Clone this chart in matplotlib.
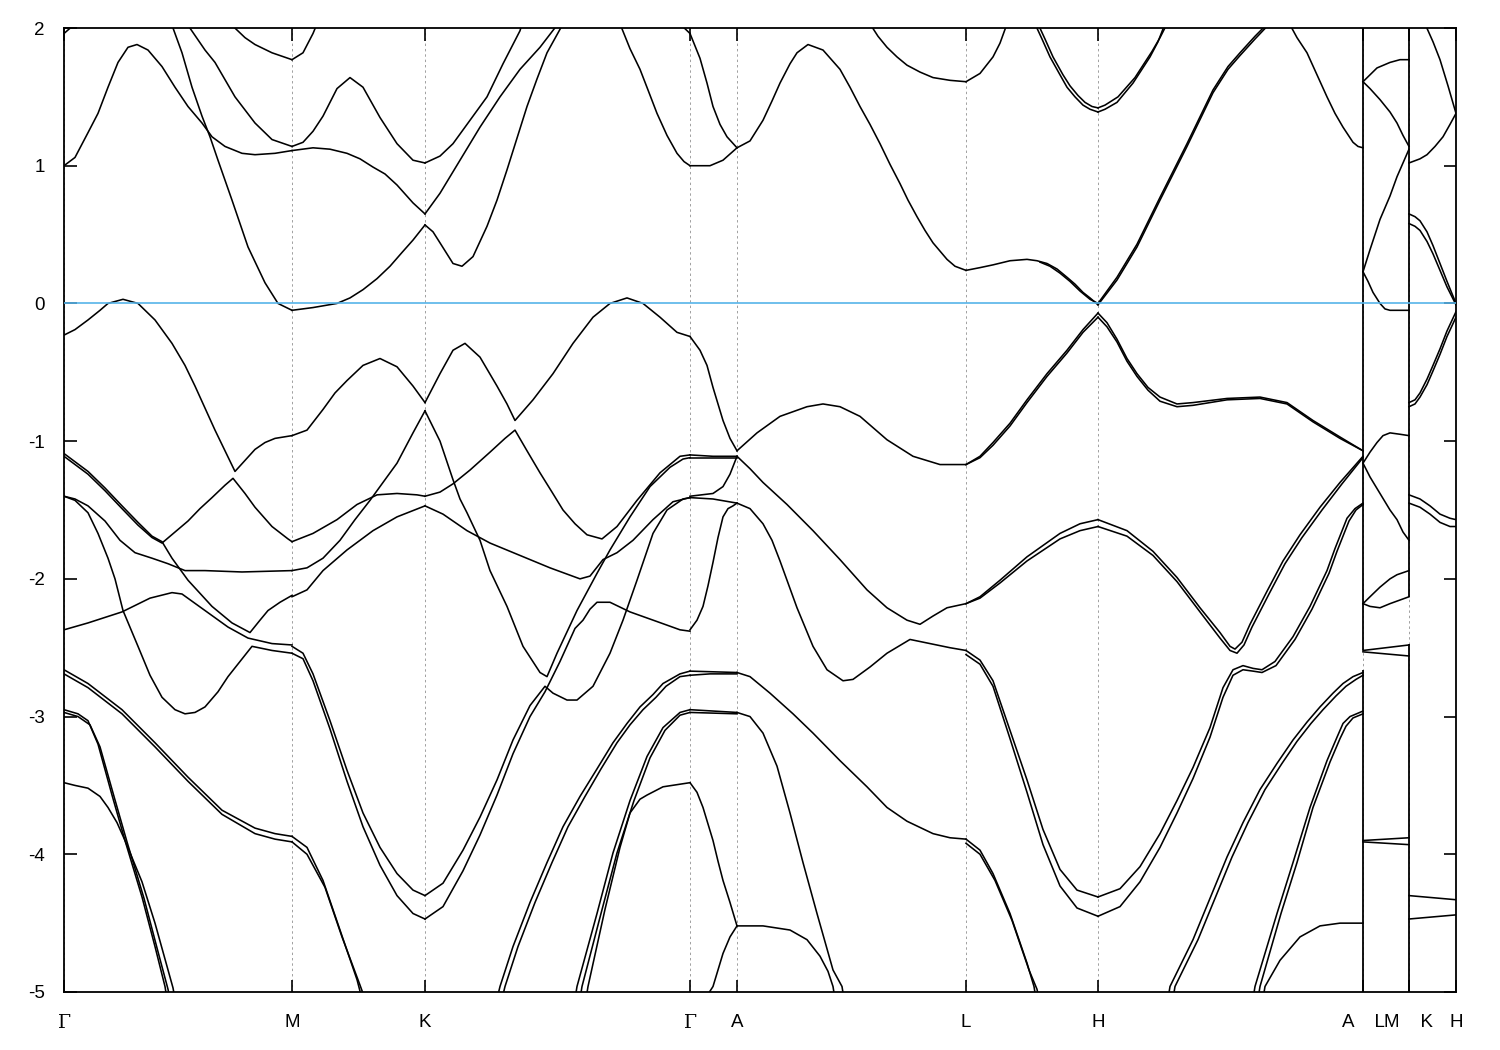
import numpy as np
import matplotlib
matplotlib.use("Agg")
import matplotlib.pyplot as plt

# k-path positions of the high-symmetry points (arbitrary path units)
kpt_pos = [64, 292, 425, 690, 737, 966, 1098, 1363, 1409, 1456]
kpt_labels = ["Γ", "M", "K", "Γ", "A", "L", "H", "A    L", "M    K", "H"]

# bands, segment by segment: lists of (k, E[eV])
gamma_m = [
    [(64, 1.96), (75, 2.03)],
    [(64, 1.0), (75, 1.06), (88, 1.24), (98, 1.38), (108, 1.57), (118, 1.75), (128, 1.86), (137, 1.88),
     (148, 1.84), (162, 1.72), (175, 1.57), (188, 1.43), (202, 1.31), (212, 1.21), (225, 1.14),
     (242, 1.09), (255, 1.08), (275, 1.09), (292, 1.11)],
    [(172, 2.02), (182, 1.82), (192, 1.57), (202, 1.36), (210, 1.21), (218, 1.04), (232, 0.75),
     (248, 0.41), (265, 0.15), (278, 0.0), (292, -0.05)],
    [(188, 2.02), (205, 1.84), (215, 1.75), (235, 1.5), (255, 1.31), (272, 1.19), (292, 1.14)],
    [(232, 2.02), (245, 1.93), (255, 1.88), (272, 1.82), (292, 1.77)],
    [(64, -0.23), (75, -0.19), (88, -0.12), (100, -0.05), (108, 0.0), (123, 0.03), (138, 0.0),
     (155, -0.12), (172, -0.29), (185, -0.45), (195, -0.6), (205, -0.76), (215, -0.92), (225, -1.07),
     (235, -1.22), (245, -1.14), (255, -1.06), (265, -1.01), (275, -0.98), (292, -0.96)],
    [(64, -1.11), (88, -1.24), (105, -1.36), (122, -1.49), (138, -1.61), (152, -1.70), (162, -1.74),
     (175, -1.66), (188, -1.58), (200, -1.49), (212, -1.41), (225, -1.32), (233, -1.27), (245, -1.38),
     (255, -1.48), (272, -1.62), (288, -1.71), (292, -1.73)],
    [(64, -1.09), (88, -1.22), (105, -1.34), (122, -1.47), (138, -1.59), (152, -1.69), (162, -1.73),
     (172, -1.85), (188, -2.01), (212, -2.2), (232, -2.32), (250, -2.39), (260, -2.3), (268, -2.23),
     (280, -2.17), (292, -2.12)],
    [(64, -1.40), (75, -1.42), (88, -1.47), (105, -1.58), (120, -1.72), (135, -1.81), (152, -1.85),
     (168, -1.89), (185, -1.94), (205, -1.94), (242, -1.95), (292, -1.94)],
    [(64, -1.40), (75, -1.43), (88, -1.52), (98, -1.67), (108, -1.85), (115, -2.0), (123, -2.23),
     (138, -2.49), (150, -2.7), (162, -2.86), (175, -2.95), (185, -2.98), (195, -2.97), (205, -2.93),
     (218, -2.82), (228, -2.71), (240, -2.6), (252, -2.49), (272, -2.52), (292, -2.54)],
    [(64, -2.37), (88, -2.32), (122, -2.24), (150, -2.14), (172, -2.10), (182, -2.11), (205, -2.23),
     (228, -2.35), (248, -2.43), (272, -2.47), (292, -2.48)],
    [(64, -2.66), (88, -2.76), (122, -2.95), (155, -3.19), (188, -3.44), (222, -3.68), (255, -3.81),
     (275, -3.85), (292, -3.87)],
    [(64, -2.69), (88, -2.79), (122, -2.98), (155, -3.22), (188, -3.47), (222, -3.71), (255, -3.85),
     (275, -3.89), (292, -3.91)],
    [(64, -2.95), (78, -2.98), (88, -3.03), (98, -3.2), (112, -3.57), (125, -3.9), (142, -4.31),
     (155, -4.67), (165, -4.96), (167, -5.05)],
    [(64, -2.97), (78, -3.0), (90, -3.06), (100, -3.22), (114, -3.58), (127, -3.91), (144, -4.32),
     (157, -4.68), (168, -4.98), (170, -5.05)],
    [(64, -3.48), (75, -3.5), (88, -3.52), (100, -3.58), (108, -3.66), (117, -3.77), (125, -3.9),
     (142, -4.2), (155, -4.5), (173, -4.97), (175, -5.05)],
]

m_k = [
    [(292, 1.77), (303, 1.82), (313, 1.96), (317, 2.03)],
    [(292, 1.14), (303, 1.17), (313, 1.25), (323, 1.36), (337, 1.56), (350, 1.64), (363, 1.57),
     (380, 1.35), (397, 1.16), (413, 1.04), (425, 1.02)],
    [(292, 1.11), (313, 1.13), (330, 1.12), (347, 1.09), (360, 1.05), (373, 0.99), (385, 0.94),
     (397, 0.86), (413, 0.73), (425, 0.65)],
    [(292, -0.05), (313, -0.03), (337, 0.0), (350, 0.04), (363, 0.1), (377, 0.18), (390, 0.27),
     (402, 0.37), (413, 0.46), (425, 0.57)],
    [(292, -0.96), (307, -0.92), (323, -0.77), (335, -0.65), (347, -0.56), (363, -0.45), (380, -0.40),
     (397, -0.46), (413, -0.60), (425, -0.72)],
    [(292, -1.94), (307, -1.92), (323, -1.85), (340, -1.72), (355, -1.57), (370, -1.43), (380, -1.33),
     (397, -1.16), (413, -0.94), (425, -0.78)],
    [(292, -1.73), (313, -1.67), (337, -1.57), (357, -1.46), (377, -1.39), (397, -1.38), (417, -1.39),
     (425, -1.40)],
    [(292, -2.13), (307, -2.08), (323, -1.94), (347, -1.79), (373, -1.65), (397, -1.55), (425, -1.47)],
    [(292, -2.49), (303, -2.54), (313, -2.69), (330, -3.03), (347, -3.39), (363, -3.70), (380, -3.95),
     (397, -4.14), (413, -4.26), (425, -4.30)],
    [(292, -2.54), (303, -2.58), (313, -2.74), (330, -3.09), (347, -3.47), (363, -3.80), (380, -4.08),
     (397, -4.30), (413, -4.43), (425, -4.47)],
    [(292, -3.87), (307, -3.95), (323, -4.19), (340, -4.55), (357, -4.91), (362, -5.05)],
    [(292, -3.91), (307, -4.0), (325, -4.24), (342, -4.6), (360, -4.95), (365, -5.05)],
]

k_gamma = [
    [(425, 1.02), (440, 1.07), (453, 1.16), (470, 1.33), (487, 1.5), (503, 1.74), (520, 1.98), (522, 2.03)],
    [(425, 0.65), (440, 0.80), (460, 1.04), (480, 1.28), (500, 1.5), (520, 1.70), (540, 1.86), (558, 2.03)],
    [(425, 0.57), (433, 0.52), (440, 0.44), (453, 0.29), (462, 0.27), (473, 0.34), (487, 0.56),
     (497, 0.75), (507, 0.97), (517, 1.2), (527, 1.43), (537, 1.63), (547, 1.82), (563, 2.03)],
    [(620, 2.03), (630, 1.85), (640, 1.70), (648, 1.55), (657, 1.38), (667, 1.22), (677, 1.09),
     (684, 1.03), (690, 1.0)],
    [(680, 2.03), (690, 1.96)],
    [(425, -0.72), (440, -0.51), (453, -0.34), (465, -0.29), (480, -0.39), (497, -0.6), (507, -0.73),
     (515, -0.85), (533, -0.70), (553, -0.51), (573, -0.29), (593, -0.10), (610, 0.0), (627, 0.04),
     (643, 0.0), (660, -0.1), (677, -0.21), (690, -0.24)],
    [(425, -0.78), (440, -1.0), (453, -1.28), (460, -1.42), (467, -1.52), (480, -1.72), (490, -1.94),
     (507, -2.20), (523, -2.49), (540, -2.68), (547, -2.71), (557, -2.54), (577, -2.23), (597, -1.96),
     (610, -1.79), (630, -1.55), (650, -1.33), (670, -1.19), (683, -1.13), (690, -1.12)],
    [(425, -1.40), (440, -1.37), (453, -1.31), (470, -1.21), (490, -1.08), (505, -0.98), (515, -0.92),
     (527, -1.07), (540, -1.23), (552, -1.37), (563, -1.50), (575, -1.60), (587, -1.68), (602, -1.71),
     (617, -1.62), (637, -1.43), (660, -1.23), (680, -1.11), (690, -1.10)],
    [(425, -1.47), (443, -1.53), (467, -1.65), (490, -1.74), (520, -1.83), (550, -1.92), (580, -2.0),
     (590, -1.98), (603, -1.86), (617, -1.81), (633, -1.72), (653, -1.57), (673, -1.44), (690, -1.41)],
    [(425, -4.30), (443, -4.21), (463, -3.97), (480, -3.73), (497, -3.46), (513, -3.17), (530, -2.92),
     (545, -2.78), (553, -2.83), (567, -2.88), (577, -2.88), (593, -2.78), (610, -2.54), (623, -2.30),
     (637, -2.01), (653, -1.67), (667, -1.50), (683, -1.42), (690, -1.41)],
    [(425, -4.47), (443, -4.38), (463, -4.12), (480, -3.86), (497, -3.57), (513, -3.27), (530, -3.0),
     (545, -2.82), (560, -2.6), (575, -2.36), (583, -2.30), (590, -2.22), (597, -2.17), (610, -2.17),
     (630, -2.24), (657, -2.31), (680, -2.37), (690, -2.38)],
    [(497, -5.05), (500, -4.96), (513, -4.67), (530, -4.35), (547, -4.06), (563, -3.80), (580, -3.58),
     (597, -3.38), (613, -3.19), (627, -3.05), (640, -2.93), (653, -2.84), (663, -2.76), (680, -2.69),
     (690, -2.67)],
    [(502, -5.05), (505, -4.96), (518, -4.67), (535, -4.35), (552, -4.06), (568, -3.80), (585, -3.58),
     (601, -3.38), (617, -3.19), (630, -3.06), (643, -2.95), (656, -2.86), (666, -2.78), (680, -2.71),
     (690, -2.70)],
    [(575, -5.05), (577, -4.96), (597, -4.43), (613, -3.99), (630, -3.61), (647, -3.29), (663, -3.08),
     (680, -2.97), (690, -2.95)],
    [(580, -5.05), (582, -4.96), (601, -4.43), (617, -3.99), (634, -3.61), (650, -3.30), (665, -3.10),
     (680, -2.99), (690, -2.97)],
    [(586, -5.05), (588, -4.96), (605, -4.4), (620, -3.95), (630, -3.70), (640, -3.60), (647, -3.57),
     (663, -3.51), (690, -3.48)],
]

gamma_a = [
    [(690, 1.96), (700, 1.78), (707, 1.6), (713, 1.43), (720, 1.3), (727, 1.21), (737, 1.13)],
    [(690, 1.0), (700, 1.0), (710, 1.0), (723, 1.04), (737, 1.13)],
    [(690, -0.24), (700, -0.34), (707, -0.45), (713, -0.61), (718, -0.73), (723, -0.85), (730, -0.98),
     (737, -1.07)],
    [(690, -1.10), (713, -1.11), (737, -1.11)],
    [(690, -1.12), (713, -1.12), (737, -1.12)],
    [(690, -1.40), (713, -1.38), (723, -1.33), (730, -1.24), (737, -1.11)],
    [(690, -1.41), (713, -1.42), (737, -1.45)],
    [(690, -2.37), (697, -2.30), (703, -2.20), (708, -2.05), (713, -1.88), (718, -1.70), (723, -1.55),
     (728, -1.49), (733, -1.47), (737, -1.45)],
    [(690, -2.67), (737, -2.68)],
    [(690, -2.70), (710, -2.69), (737, -2.69)],
    [(690, -2.95), (737, -2.97)],
    [(690, -2.97), (737, -2.98)],
    [(690, -3.48), (697, -3.55), (703, -3.66), (708, -3.78), (713, -3.9), (718, -4.05), (723, -4.19),
     (730, -4.35), (737, -4.52)],
    [(705, -5.05), (713, -4.96), (723, -4.72), (730, -4.6), (737, -4.52)],
]

a_l = [
    [(737, 1.13), (750, 1.18), (763, 1.33), (772, 1.47), (780, 1.6), (790, 1.74), (797, 1.82), (808, 1.88),
     (823, 1.84), (840, 1.70), (850, 1.57), (860, 1.43), (870, 1.30), (880, 1.16), (890, 1.01),
     (900, 0.87), (908, 0.75), (917, 0.63), (925, 0.53), (933, 0.44), (947, 0.32), (955, 0.27),
     (966, 0.24)],
    [(870, 2.03), (878, 1.94), (887, 1.86), (897, 1.79), (907, 1.73), (920, 1.68), (933, 1.64),
     (950, 1.62), (966, 1.61)],
    [(737, -1.07), (757, -0.94), (780, -0.82), (807, -0.75), (823, -0.73), (840, -0.75), (860, -0.82),
     (887, -0.99), (913, -1.11), (940, -1.17), (966, -1.17)],
    [(737, -1.11), (750, -1.2), (763, -1.30), (787, -1.46), (813, -1.65), (840, -1.86), (867, -2.08),
     (887, -2.21), (907, -2.30), (920, -2.33), (933, -2.27), (947, -2.21), (966, -2.18)],
    [(737, -1.45), (750, -1.49), (763, -1.60), (772, -1.72), (780, -1.87), (797, -2.21), (813, -2.49),
     (827, -2.66), (843, -2.74), (853, -2.73), (870, -2.64), (887, -2.54), (910, -2.44), (930, -2.47),
     (950, -2.50), (966, -2.52)],
    [(737, -2.68), (750, -2.71), (770, -2.83), (793, -2.98), (813, -3.12), (840, -3.32), (867, -3.51),
     (887, -3.66), (907, -3.76), (933, -3.85), (950, -3.88), (966, -3.89)],
    [(737, -2.97), (750, -3.0), (763, -3.12), (777, -3.36), (790, -3.70), (803, -4.06), (817, -4.43),
     (833, -4.84), (842, -4.96), (844, -5.05)],
    [(737, -4.52), (763, -4.52), (790, -4.55), (807, -4.62), (820, -4.74), (828, -4.85), (833, -4.96),
     (835, -5.05)],
]

l_h = [
    [(966, 1.61), (980, 1.67), (993, 1.79), (1000, 1.89), (1007, 2.03)],
    [(1035, 2.03), (1042, 1.92), (1050, 1.79), (1060, 1.66), (1067, 1.57), (1075, 1.5), (1083, 1.44),
     (1090, 1.41), (1098, 1.39)],
    [(1038, 2.03), (1045, 1.92), (1053, 1.79), (1063, 1.66), (1070, 1.58), (1078, 1.51), (1085, 1.46),
     (1092, 1.43), (1098, 1.42)],
    [(966, 0.24), (980, 0.26), (993, 0.28), (1010, 0.31), (1027, 0.32), (1037, 0.31), (1047, 0.29),
     (1057, 0.25), (1067, 0.19), (1075, 0.14), (1083, 0.08), (1090, 0.04), (1098, -0.01)],
    [(1040, 0.30), (1050, 0.27), (1060, 0.22), (1070, 0.16), (1080, 0.09), (1090, 0.03), (1098, 0.0)],
    [(966, -1.17), (980, -1.11), (993, -1.01), (1010, -0.87), (1027, -0.70), (1047, -0.51), (1067, -0.34),
     (1083, -0.19), (1098, -0.07)],
    [(966, -1.17), (980, -1.12), (993, -1.03), (1010, -0.89), (1027, -0.72), (1047, -0.53), (1067, -0.36),
     (1083, -0.21), (1098, -0.10)],
    [(966, -2.18), (980, -2.13), (1000, -2.01), (1027, -1.84), (1060, -1.67), (1080, -1.60), (1098, -1.57)],
    [(966, -2.18), (980, -2.14), (1000, -2.03), (1027, -1.87), (1060, -1.71), (1080, -1.65), (1098, -1.62)],
    [(966, -2.52), (980, -2.59), (993, -2.74), (1010, -3.10), (1027, -3.46), (1043, -3.82), (1060, -4.11),
     (1077, -4.26), (1098, -4.31)],
    [(966, -2.55), (980, -2.62), (993, -2.78), (1010, -3.16), (1027, -3.55), (1043, -3.93), (1060, -4.23),
     (1077, -4.39), (1098, -4.45)],
    [(966, -3.89), (980, -3.97), (993, -4.14), (1010, -4.43), (1027, -4.79), (1034, -4.96), (1036, -5.05)],
    [(966, -3.92), (980, -4.0), (995, -4.19), (1012, -4.48), (1029, -4.84), (1037, -4.98), (1039, -5.05)],
]

h_a = [
    [(1098, 1.39), (1105, 1.41), (1117, 1.46), (1133, 1.60), (1150, 1.79), (1158, 1.9), (1165, 2.03)],
    [(1098, 1.42), (1105, 1.44), (1118, 1.50), (1135, 1.64), (1152, 1.83), (1160, 1.93), (1167, 2.03)],
    [(1098, -0.01), (1117, 0.17), (1137, 0.41), (1160, 0.75), (1187, 1.14), (1213, 1.53), (1228, 1.7),
     (1240, 1.80), (1255, 1.92), (1272, 2.05)],
    [(1098, 0.0), (1117, 0.19), (1137, 0.43), (1160, 0.77), (1187, 1.16), (1213, 1.55), (1228, 1.72),
     (1240, 1.82), (1255, 1.94), (1270, 2.05)],
    [(1288, 2.05), (1297, 1.93), (1307, 1.82), (1317, 1.66), (1327, 1.50), (1335, 1.38), (1343, 1.28),
     (1353, 1.17), (1358, 1.14), (1363, 1.13)],
    [(1098, -0.07), (1107, -0.14), (1117, -0.26), (1127, -0.40), (1137, -0.51), (1148, -0.61),
     (1160, -0.68), (1177, -0.73), (1193, -0.72), (1227, -0.69), (1260, -0.68), (1287, -0.72),
     (1313, -0.85), (1340, -0.97), (1363, -1.07)],
    [(1098, -0.10), (1107, -0.17), (1117, -0.28), (1127, -0.42), (1137, -0.53), (1148, -0.63),
     (1160, -0.71), (1177, -0.75), (1193, -0.74), (1227, -0.70), (1260, -0.69), (1287, -0.73),
     (1313, -0.86), (1340, -0.98), (1363, -1.07)],
    [(1098, -1.57), (1127, -1.65), (1153, -1.80), (1177, -1.99), (1200, -2.21), (1220, -2.39),
     (1230, -2.49), (1235, -2.51), (1242, -2.46), (1250, -2.33), (1267, -2.09), (1283, -1.87),
     (1300, -1.68), (1320, -1.48), (1340, -1.30), (1363, -1.11)],
    [(1098, -1.62), (1127, -1.69), (1153, -1.83), (1177, -2.02), (1200, -2.24), (1220, -2.43),
     (1230, -2.52), (1237, -2.54), (1244, -2.48), (1252, -2.35), (1269, -2.11), (1285, -1.89),
     (1302, -1.70), (1322, -1.50), (1342, -1.31), (1363, -1.12)],
    [(1098, -4.31), (1120, -4.25), (1140, -4.09), (1160, -3.85), (1177, -3.61), (1193, -3.37),
     (1210, -3.08), (1223, -2.79), (1233, -2.66), (1243, -2.63), (1253, -2.65), (1262, -2.66),
     (1275, -2.60), (1285, -2.50), (1293, -2.42), (1310, -2.20), (1327, -1.94), (1335, -1.78),
     (1347, -1.56), (1355, -1.49), (1363, -1.45)],
    [(1098, -4.45), (1120, -4.38), (1140, -4.20), (1160, -3.95), (1177, -3.70), (1193, -3.45),
     (1210, -3.15), (1223, -2.86), (1233, -2.70), (1243, -2.66), (1253, -2.67), (1262, -2.68),
     (1276, -2.63), (1287, -2.52), (1295, -2.44), (1312, -2.22), (1329, -1.96), (1337, -1.80),
     (1349, -1.58), (1356, -1.50), (1363, -1.46)],
    [(1168, -5.05), (1170, -4.96), (1193, -4.62), (1210, -4.32), (1227, -4.02), (1243, -3.77),
     (1260, -3.53), (1277, -3.34), (1293, -3.17), (1307, -3.04), (1320, -2.93), (1333, -2.83),
     (1343, -2.76), (1353, -2.71), (1363, -2.68)],
    [(1173, -5.05), (1175, -4.96), (1198, -4.62), (1215, -4.32), (1232, -4.02), (1248, -3.77),
     (1265, -3.53), (1282, -3.34), (1297, -3.18), (1311, -3.05), (1323, -2.95), (1336, -2.85),
     (1346, -2.78), (1356, -2.73), (1363, -2.70)],
    [(1253, -5.05), (1255, -4.96), (1277, -4.43), (1293, -4.06), (1310, -3.66), (1327, -3.32),
     (1337, -3.15), (1343, -3.05), (1350, -3.0), (1363, -2.96)],
    [(1258, -5.05), (1260, -4.96), (1281, -4.43), (1297, -4.06), (1313, -3.66), (1330, -3.33),
     (1340, -3.16), (1346, -3.07), (1353, -3.01), (1363, -2.98)],
    [(1263, -5.05), (1265, -4.96), (1280, -4.77), (1300, -4.60), (1320, -4.52), (1340, -4.50),
     (1363, -4.50)],
]

l_m = [
    [(1363, 1.61), (1370, 1.66), (1377, 1.71), (1390, 1.75), (1400, 1.77), (1409, 1.77)],
    [(1363, 1.61), (1370, 1.56), (1380, 1.48), (1390, 1.39), (1397, 1.31), (1403, 1.22), (1409, 1.14)],
    [(1363, 0.23), (1370, 0.39), (1380, 0.61), (1390, 0.78), (1397, 0.92), (1403, 1.02), (1409, 1.12)],
    [(1363, 0.23), (1368, 0.16), (1373, 0.08), (1380, 0.0), (1385, -0.04), (1390, -0.05), (1409, -0.05)],
    [(1363, -1.16), (1370, -1.08), (1377, -1.01), (1383, -0.96), (1390, -0.94), (1400, -0.95), (1409, -0.96)],
    [(1363, -1.16), (1370, -1.26), (1380, -1.38), (1390, -1.5), (1397, -1.57), (1403, -1.66), (1409, -1.72)],
    [(1363, -2.18), (1370, -2.13), (1380, -2.06), (1390, -2.0), (1397, -1.97), (1409, -1.94)],
    [(1363, -2.18), (1370, -2.20), (1380, -2.21), (1390, -2.18), (1409, -2.13)],
    [(1363, -2.52), (1409, -2.48)],
    [(1363, -2.53), (1409, -2.56)],
    [(1363, -3.90), (1409, -3.88)],
    [(1363, -3.91), (1409, -3.93)],
]

k_h = [
    [(1425, 2.03), (1433, 1.9), (1440, 1.77), (1448, 1.58), (1456, 1.38)],
    [(1409, 1.02), (1420, 1.05), (1427, 1.08), (1435, 1.14), (1443, 1.21), (1450, 1.30), (1456, 1.38)],
    [(1409, 0.65), (1415, 0.63), (1420, 0.60), (1427, 0.52), (1433, 0.42), (1440, 0.29), (1447, 0.16),
     (1456, 0.0)],
    [(1409, 0.58), (1415, 0.56), (1420, 0.53), (1427, 0.45), (1433, 0.36), (1440, 0.24), (1447, 0.12),
     (1456, -0.01)],
    [(1409, -0.72), (1415, -0.70), (1420, -0.65), (1427, -0.55), (1433, -0.45), (1440, -0.33),
     (1447, -0.20), (1456, -0.06)],
    [(1409, -0.75), (1415, -0.73), (1420, -0.68), (1427, -0.59), (1433, -0.49), (1440, -0.37),
     (1447, -0.24), (1456, -0.10)],
    [(1409, -1.39), (1420, -1.42), (1430, -1.47), (1440, -1.53), (1450, -1.56), (1456, -1.57)],
    [(1409, -1.45), (1420, -1.48), (1430, -1.53), (1440, -1.59), (1450, -1.62), (1456, -1.62)],
    [(1409, -4.30), (1456, -4.33)],
    [(1409, -4.47), (1456, -4.44)],
]

# vertical jumps at the path discontinuities A|L and M|K: (k, Emin, Emax)
jumps = [(1363, -5.0, -2.66), (1363, -2.52, 2.0), (1409, -5.0, -2.47), (1409, -2.13, 2.0)]

plt.rcParams["font.family"] = ["Liberation Sans", "DejaVu Sans"]
plt.rcParams["axes.unicode_minus"] = False

fig = plt.figure(figsize=(15, 10.5), dpi=100)
ax = fig.add_axes([64 / 1500, 58 / 1050, 1392 / 1500, 964 / 1050])

for seg in [gamma_m, m_k, k_gamma, gamma_a, a_l, l_h, h_a, l_m, k_h]:
    for band in seg:
        k, e = np.array(band).T
        ax.plot(k, e, color="black", lw=1.15, solid_joinstyle="round")

for k, lo, hi in jumps:
    ax.vlines(k, lo, hi, color="black", lw=1.3)

ax.axhline(0, color="#56b4e9", lw=1.2, zorder=3)

ax.set_xlim(kpt_pos[0], kpt_pos[-1])
ax.set_ylim(-5, 2)
ax.set_xticks(kpt_pos)
ax.set_xticklabels(kpt_labels)
ax.set_yticks(np.arange(-5, 3))
ax.grid(axis="x", color="#a0a0a0", linestyle=(0, (2.5, 3)), lw=0.7)

ax.tick_params(direction="in", length=9, width=1.2, top=True, right=True, labelsize=13.5)
ax.tick_params(axis="x", pad=16)
ax.tick_params(axis="y", pad=14)
for lbl in ax.get_xticklabels():
    if lbl.get_text() == "Γ":
        lbl.set_fontfamily("DejaVu Serif")
for sp in ax.spines.values():
    sp.set_linewidth(1.3)

fig.savefig("out.png", dpi=100)
